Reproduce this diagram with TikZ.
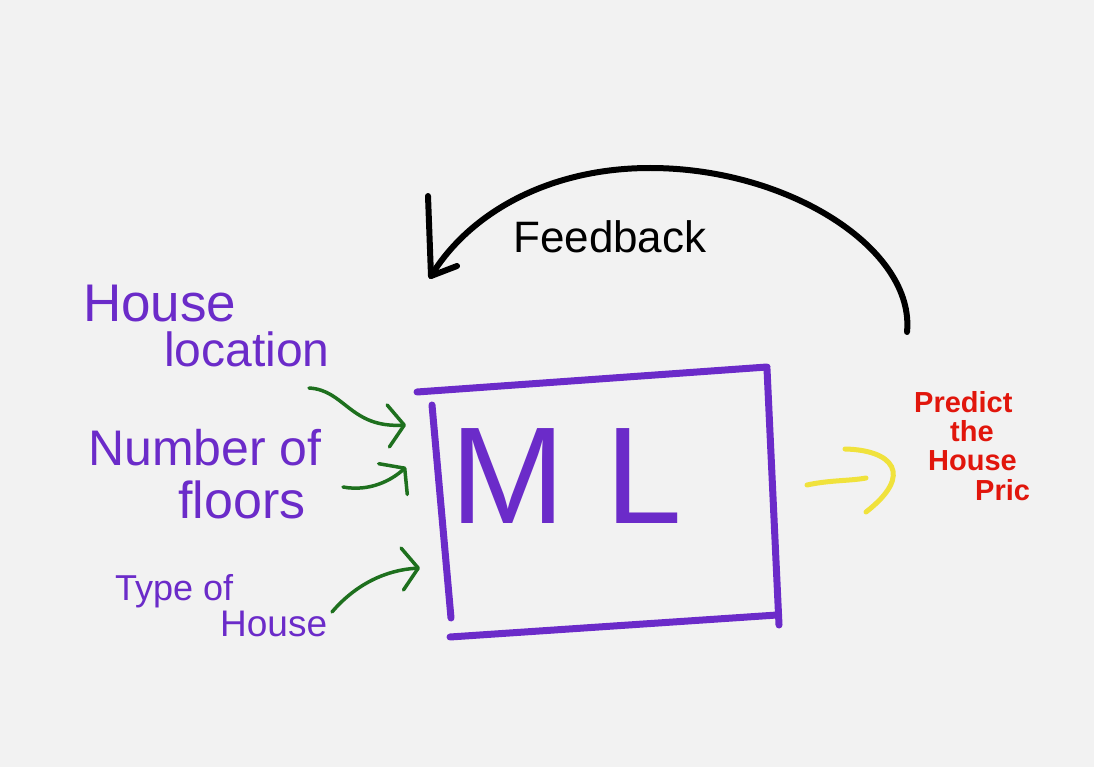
\documentclass[tikz,border=0pt]{standalone}
\usepackage{fontspec}
\setmainfont{Liberation Sans}
\usetikzlibrary{arrows.meta}
\definecolor{bgc}{RGB}{242,242,242}
\definecolor{mlpurple}{RGB}{107,43,201}
\definecolor{arrgreen}{RGB}{30,112,30}
\definecolor{arryellow}{RGB}{240,226,60}
\definecolor{predred}{RGB}{225,22,12}
\tikzset{
  lbl/.style={anchor=base west, inner sep=0pt, text=mlpurple},
  redlbl/.style={anchor=base west, inner sep=0pt, text=predred, font=\bfseries\fontsize{29}{29}\selectfont},
  boxstroke/.style={draw=mlpurple, line width=7pt, line cap=round},
  greenarr/.style={draw=arrgreen, line width=3.5pt, line cap=round,
    -{Straight Barb[length=16pt, width=42pt, line cap=round, line join=round]}},
  fbstroke/.style={draw=black, line width=6pt, line cap=round, line join=round},
  yelstroke/.style={draw=arryellow, line width=5pt, line cap=round}
}
\begin{document}
\begin{tikzpicture}[x=1pt, y=-1pt]
\fill[bgc] (0,0) rectangle (1094,767);
\useasboundingbox (0,0) rectangle (1094,767);

% labels on the left
\node[lbl, font=\fontsize{53}{53}\selectfont] (hl1) at (83,321) {House};
\node[lbl, font=\fontsize{48}{48}\selectfont] (hl2) at (164,366) {location};
\node[lbl, font=\fontsize{50}{50}\selectfont] (nf1) at (88,465) {Number of};
\node[lbl, font=\fontsize{52}{52}\selectfont] (nf2) at (178,518) {floors};
\node[lbl, font=\fontsize{36}{36}\selectfont] (th1) at (115,600) {Type of};
\node[lbl, font=\fontsize{37}{37}\selectfont] (th2) at (220,636) {House};

% ML box
\draw[boxstroke] (417,392) -- (767,367);
\draw[boxstroke] (767,369) -- (779,625);
\draw[boxstroke] (450,637) -- (777,615);
\draw[boxstroke] (432,405) -- (451,618);
\node[anchor=base west, inner sep=0pt, text=mlpurple, font=\fontsize{138}{138}\selectfont] (ml) at (450,523) {M\kern40ptL};

% green arrows
\coordinate (g1s) at (309,388);
\coordinate (g1e) at (406,425);
\coordinate (g2s) at (343,487);
\coordinate (g2e) at (406,467);
\coordinate (g3s) at (332,612);
\coordinate (g3e) at (420,568);
\draw[greenarr] (g1s) .. controls (345,390) and (350,428) .. (g1e);
\draw[greenarr] (g2s) .. controls (370,492) and (392,480) .. (g2e);
\draw[greenarr] (g3s) .. controls (355,585) and (385,570) .. (g3e);

% yellow arrow
\coordinate (ys) at (807,485);
\coordinate (ye) at (866,478);
\coordinate (yh1) at (845,449);
\coordinate (yh2) at (866,512);
\draw[yelstroke] (ys) .. controls (830,480) and (850,481) .. (ye);
\draw[yelstroke] (yh1) .. controls (892,450) and (915,474) .. (yh2);

% prediction text
\node[redlbl] (p1) at (914,412) {Predict};
\node[redlbl] (p2) at (950,441) {the};
\node[redlbl] (p3) at (928,470) {House};
\node[redlbl] (p4) at (975,500) {Pric};

% feedback arrow
\coordinate (fbs) at (907,332);
\coordinate (fbe) at (431,276);
\draw[fbstroke] (fbs) .. controls (915,250) and (790,168) .. (650,168)
                      .. controls (550,168) and (470,212) .. (fbe);
\draw[fbstroke] (fbe) ++(-3,-80) -- (fbe) -- ++(26,-10);
\node[anchor=base west, inner sep=0pt, font=\fontsize{44}{44}\selectfont] (fb) at (513,252) {Feedback};
\end{tikzpicture}
\end{document}
